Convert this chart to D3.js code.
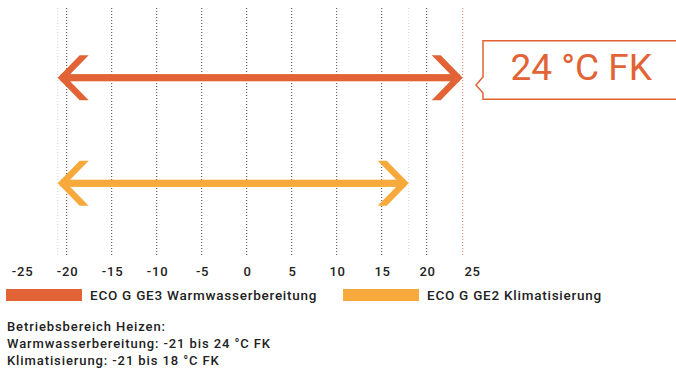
<!DOCTYPE html>
<html>
<head>
<meta charset="utf-8">
<script src="https://cdn.jsdelivr.net/npm/d3@7"></script>
<style>
  body { margin: 0; background: #fff; }
  svg { display: block; font-family: Roboto, "Noto Sans", sans-serif; }
</style>
</head>
<body>
<div id="container"></div>
<script>
/**
 * DATA
 * */
const tickValues = [-25, -20, -15, -10, -5, 0, 5, 10, 15, 20, 25]
const gridValues = [-20, -15, -10, -5, 0, 5, 10, 15, 20]
const seriesNames = ['ECO G GE3 Warmwasserbereitung', 'ECO G GE2 Klimatisierung']
const rangeMin = [-21, -21]
const rangeMax = [24, 18]
const seriesColors = ['#e26336', '#f7a93b']
const calloutLabel = '24 °C FK'
const noteLines = [
  'Betriebsbereich Heizen:',
  'Warmwasserbereitung: -21 bis 24 °C FK',
  'Klimatisierung: -21 bis 18 °C FK'
]

/**
 * CONSTANTS
 * */
const width = 676,
  height = 372,
  gridTop = 8,
  gridBottom = 257

const svg = d3.select('#container')
  .append('svg')
  .attr('width', width)
  .attr('height', height)

const x = d3.scaleLinear().domain([-25, 25]).range([21.7, 471.7])
const y = d3.scalePoint().domain(seriesNames).range([77.7, 183.3])

// dotted grid lines
svg.selectAll('.grid')
  .data(gridValues)
  .join('line')
  .attr('class', 'grid')
  .attr('x1', d => x(d)).attr('x2', d => x(d))
  .attr('y1', gridTop).attr('y2', gridBottom)
  .attr('stroke', '#444')
  .attr('stroke-width', 1)
  .attr('stroke-dasharray', '1,2')

// light lines at the range ends
const ends = [
  { v: rangeMin[0], c: '#d6d6d6' },
  { v: rangeMax[1], c: '#d6d6d6' },
  { v: rangeMax[0], c: seriesColors[0] }
]
svg.selectAll('.endline')
  .data(ends)
  .join('line')
  .attr('class', 'endline')
  .attr('x1', d => x(d.v)).attr('x2', d => x(d.v))
  .attr('y1', gridTop).attr('y2', gridBottom)
  .attr('stroke', d => d.c)
  .attr('stroke-width', 1)
  .attr('stroke-dasharray', '1,2')
  .attr('opacity', d => d.v === rangeMax[0] ? 0.8 : 1)

// arrows
const rows = seriesNames.map((name, i) => ({ name, lo: rangeMin[i], hi: rangeMax[i], color: seriesColors[i] }))
const headLen = 22, headH = 22.5, headT = 9

function chevron(tipX, cy, dir) {
  // dir = 1 points left, -1 points right
  const p = [
    [tipX, cy],
    [tipX + dir * headLen, cy - headH],
    [tipX + dir * (headLen + headT), cy - headH],
    [tipX + dir * headT, cy],
    [tipX + dir * (headLen + headT), cy + headH],
    [tipX + dir * headLen, cy + headH]
  ]
  return 'M' + p.map(d => d.join(',')).join('L') + 'Z'
}

const arrows = svg.selectAll('.arrow')
  .data(rows)
  .join('g')
  .attr('class', 'arrow')

arrows.append('rect')
  .attr('x', d => x(d.lo) + 3)
  .attr('y', d => y(d.name) - 3.6)
  .attr('width', d => x(d.hi) - x(d.lo) - 6)
  .attr('height', 7.2)
  .attr('fill', d => d.color)

arrows.append('path')
  .attr('d', d => chevron(x(d.lo), y(d.name), 1))
  .attr('fill', d => d.color)

arrows.append('path')
  .attr('d', d => chevron(x(d.hi), y(d.name), -1))
  .attr('fill', d => d.color)

// callout
const bx = 483, bTop = 40.7, bBot = 99.3, notchY = 85
svg.append('path')
  .attr('d', `M${width + 2},${bTop}H${bx}V${notchY - 8}L${bx - 7},${notchY}L${bx},${notchY + 8}V${bBot}H${width + 2}`)
  .attr('fill', '#fff')
  .attr('stroke', seriesColors[0])
  .attr('stroke-width', 1.5)

svg.append('text')
  .attr('x', 510.5)
  .attr('y', 80)
  .attr('fill', seriesColors[0])
  .attr('font-size', 37)
  .text(calloutLabel)

// x axis (labels only)
const axis = svg.append('g')
  .attr('transform', `translate(0,${262})`)
  .call(d3.axisBottom(x).tickValues(tickValues).tickSize(0).tickPadding(0).tickFormat(d => d))
axis.select('.domain').remove()
axis.selectAll('text')
  .attr('dy', null)
  .attr('y', 14)
  .attr('dx', 0.4)
  .attr('font-family', 'Roboto, sans-serif')
  .attr('font-size', 13)
  .attr('font-weight', 500)
  .attr('letter-spacing', 0.8)
  .attr('fill', '#222')

// legend
const legend = svg.selectAll('.legend')
  .data(rows)
  .join('g')
  .attr('class', 'legend')
  .attr('transform', (d, i) => `translate(${i === 0 ? 6 : 343},289)`)

legend.append('rect')
  .attr('width', 76)
  .attr('height', 12)
  .attr('fill', d => d.color)

legend.append('text')
  .attr('x', 84)
  .attr('y', 11)
  .attr('font-size', 13.5)
  .attr('font-weight', 500)
  .attr('letter-spacing', 0.75)
  .attr('fill', '#222')
  .text(d => d.name)

// note text
svg.selectAll('.note')
  .data(noteLines)
  .join('text')
  .attr('class', 'note')
  .attr('x', 7)
  .attr('y', (d, i) => 331 + i * 17)
  .attr('font-size', 13)
  .attr('font-weight', 500)
  .attr('letter-spacing', 0.9)
  .attr('fill', '#222')
  .text(d => d)
</script>
</body>
</html>
